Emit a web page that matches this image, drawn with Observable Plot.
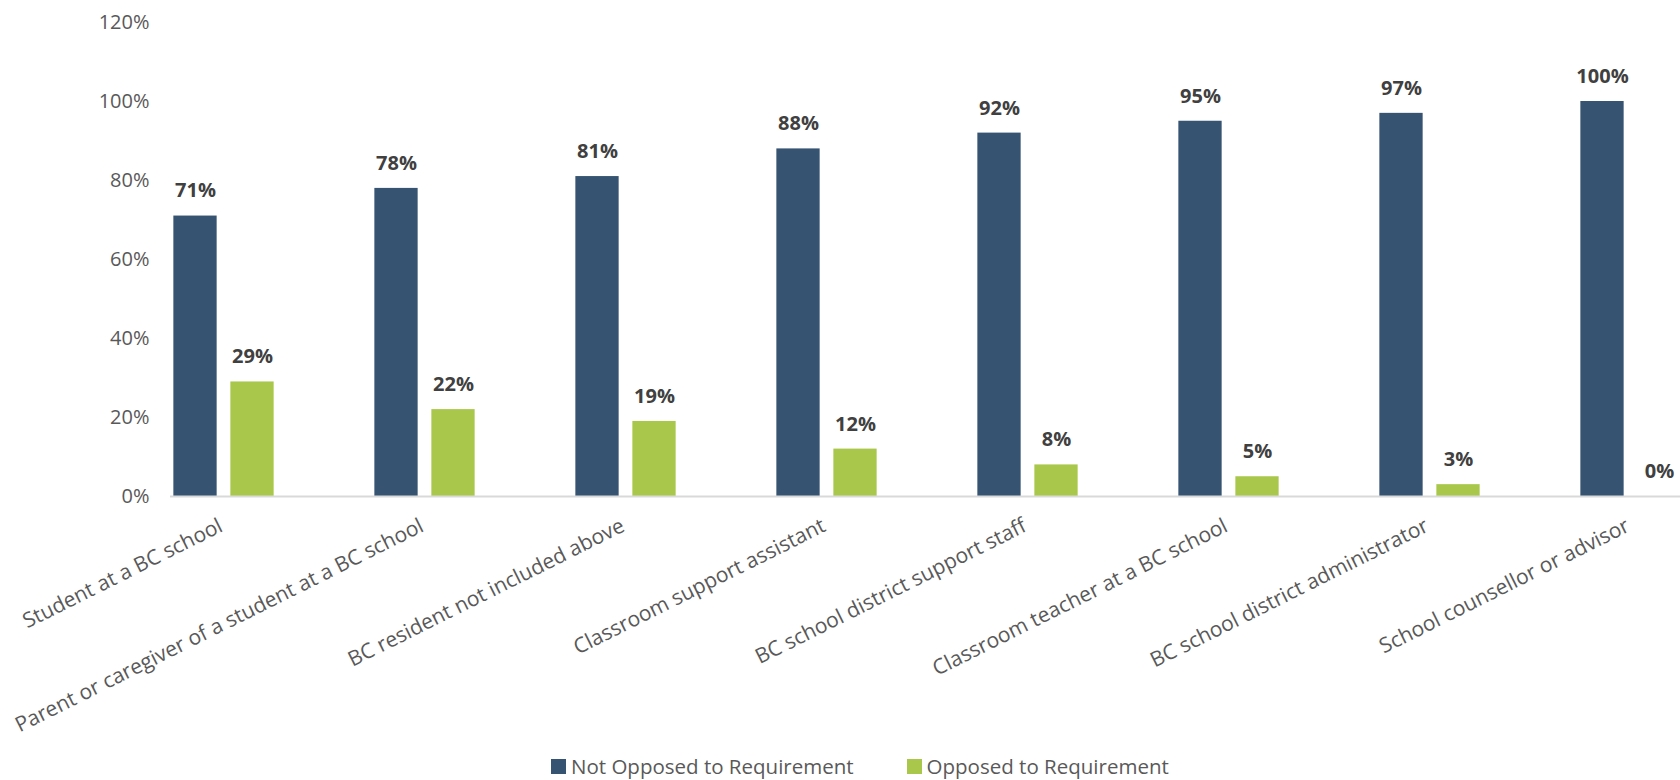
<!DOCTYPE html>
<html><head><meta charset="utf-8">
<script src="https://cdn.jsdelivr.net/npm/d3@7"></script>
<script src="https://cdn.jsdelivr.net/npm/@observablehq/plot@0.6"></script>
<style>
html,body{margin:0;padding:0;background:#fff;overflow:hidden;}
body{font-family:"Open Sans",sans-serif;}
#legend{display:flex;align-items:center;height:36px;padding-left:551px;font-size:20.5px;color:#595959;font-family:"Open Sans",sans-serif;}
.item{display:flex;align-items:center;margin-right:53px;}
.sw{width:15px;height:15px;margin-right:5px;}
</style></head><body>
<div id="chart"></div>
<div id="legend"></div>
<script>
const categories = [
  "Student at a BC school",
  "Parent or caregiver of a student at a BC school",
  "BC resident not included above",
  "Classroom support assistant",
  "BC school district support staff",
  "Classroom teacher at a BC school",
  "BC school district administrator",
  "School counsellor or advisor"
];
const series = ["Not Opposed to Requirement", "Opposed to Requirement"];
const notOpposed = [71, 78, 81, 88, 92, 95, 97, 100];
const opposed = [29, 22, 19, 12, 8, 5, 3, 0];
const colors = ["#365472", "#A9C84B"];
const yTicks = [0, 20, 40, 60, 80, 100, 120];

const rows = categories.flatMap((c, i) => [
  {category: c, series: series[0], value: notOpposed[i]},
  {category: c, series: series[1], value: opposed[i]}
]);

const W = 1680, H = 748;
const barW = 44, gap = 13;
const step = 201.7;
const half = (barW + gap) / 2;
const inset = (step - barW) / 2;
const firstCenter = 221.5;

function seriesMarks(s, sign) {
  const d = rows.filter(r => r.series === s);
  return [
    Plot.barY(d, {x: "category", y: "value", fill: colors[series.indexOf(s)],
      dx: sign * half, insetLeft: inset, insetRight: inset}),
    Plot.text(d, {x: "category", y: "value", text: r => r.value + "%",
      dx: sign * half, dy: -25, fontSize: 20, fontWeight: 700, fill: "#404040"})
  ];
}

const chart = Plot.plot({
  width: W, height: H,
  marginLeft: 170, marginRight: 0, marginTop: 22, marginBottom: H - 496,
  style: {fontFamily: "'Open Sans', sans-serif", color: "#595959", background: "#fff", overflow: "visible"},
  x: {domain: categories, range: [firstCenter - step / 2, firstCenter - step / 2 + step * categories.length], padding: 0, axis: null},
  y: {domain: [0, 120]},
  marks: [
    Plot.axisY({ticks: yTicks, tickFormat: d => d + "%", tickSize: 0, tickPadding: 21, fontSize: 20, label: null}),
    ...seriesMarks(series[0], -1),
    ...seriesMarks(series[1], 1),
    Plot.ruleY([0], {stroke: "#d9d9d9", strokeWidth: 2}),
    Plot.text(categories, {x: d => d, frameAnchor: "bottom", dy: 28, dx: -3, rotate: -26.5,
      textAnchor: "end", lineAnchor: "middle", fontSize: 21, fill: "#595959"})
  ]
});
document.getElementById("chart").appendChild(chart);

const lg = document.getElementById("legend");
series.forEach((s, i) => {
  const it = document.createElement("div");
  it.className = "item";
  const sw = document.createElement("span");
  sw.className = "sw";
  sw.style.background = colors[i];
  const t = document.createElement("span");
  t.textContent = s;
  it.appendChild(sw); it.appendChild(t);
  lg.appendChild(it);
});
</script>
</body></html>
